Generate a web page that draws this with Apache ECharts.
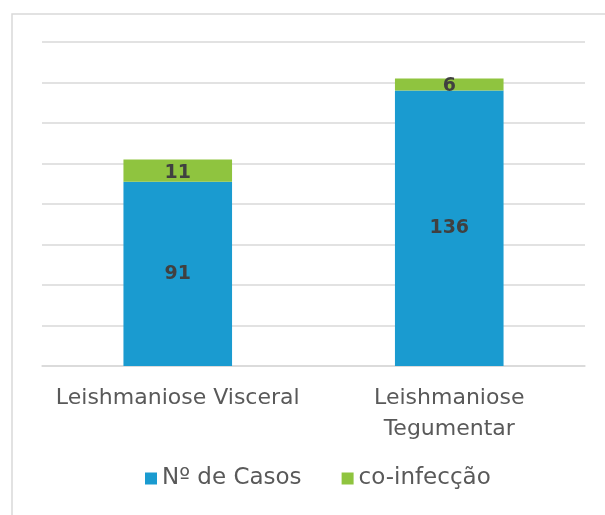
<!DOCTYPE html>
<html>
<head>
<meta charset="utf-8">
<script src="https://cdn.jsdelivr.net/npm/echarts@6/dist/echarts.min.js"></script>
<style>
  html, body { margin: 0; padding: 0; background: #fff; }
  #chart { width: 605px; height: 515px; }
</style>
</head>
<body>
<div id="chart"></div>
<script>
var categories = ['Leishmaniose Visceral', 'Leishmaniose Tegumentar']
var casos = [91, 136]
var coinfeccao = [11, 6]
var seriesNames = ['Nº de Casos', 'co-infecção']

var textColor = '#595959'
var font = 'DejaVu Sans'

var myChart = echarts.init(document.getElementById('chart'))

var option = {
  animation: false,
  backgroundColor: '#fff',
  graphic: [{
    type: 'rect',
    shape: { x: 12, y: 14, width: 640, height: 560 },
    style: { fill: 'none', stroke: '#d9d9d9', lineWidth: 1.5 },
    silent: true
  }],
  grid: { left: 42, right: 20, top: 42, bottom: 149 },
  legend: {
    bottom: 20,
    left: 140,
    itemWidth: 12,
    itemHeight: 12,
    itemGap: 40,
    icon: 'rect',
    textStyle: { color: textColor, fontSize: 23, fontFamily: font },
    data: seriesNames
  },
  xAxis: {
    type: 'category',
    data: categories,
    axisTick: { show: false },
    axisLine: { lineStyle: { color: '#d9d9d9', width: 1.5 } },
    axisLabel: {
      color: textColor,
      fontSize: 22,
      fontFamily: font,
      margin: 17,
      lineHeight: 31,
      interval: 0,
      formatter: function (v) {
        return v === categories[1] ? v.replace(' ', '\n') : v
      }
    }
  },
  yAxis: {
    type: 'value',
    min: 0,
    max: 160,
    interval: 20,
    axisLabel: { show: false },
    axisLine: { show: false },
    axisTick: { show: false },
    splitLine: { lineStyle: { color: '#d9d9d9', width: 1.5 } }
  },
  series: [{
    name: seriesNames[0],
    type: 'bar',
    stack: 'total',
    barWidth: '40%',
    data: casos,
    itemStyle: { color: '#1a9bd0' },
    label: {
      show: true,
      position: 'inside',
      color: '#404040',
      fontSize: 19,
      fontWeight: 'bold',
      fontFamily: font
    }
  }, {
    name: seriesNames[1],
    type: 'bar',
    stack: 'total',
    barWidth: '40%',
    data: coinfeccao,
    itemStyle: { color: '#8fc43f' },
    label: {
      show: true,
      position: 'inside',
      offset: [0, 2],
      color: '#404040',
      fontSize: 19,
      fontWeight: 'bold',
      fontFamily: font
    }
  }]
}

myChart.setOption(option)
</script>
</body>
</html>
